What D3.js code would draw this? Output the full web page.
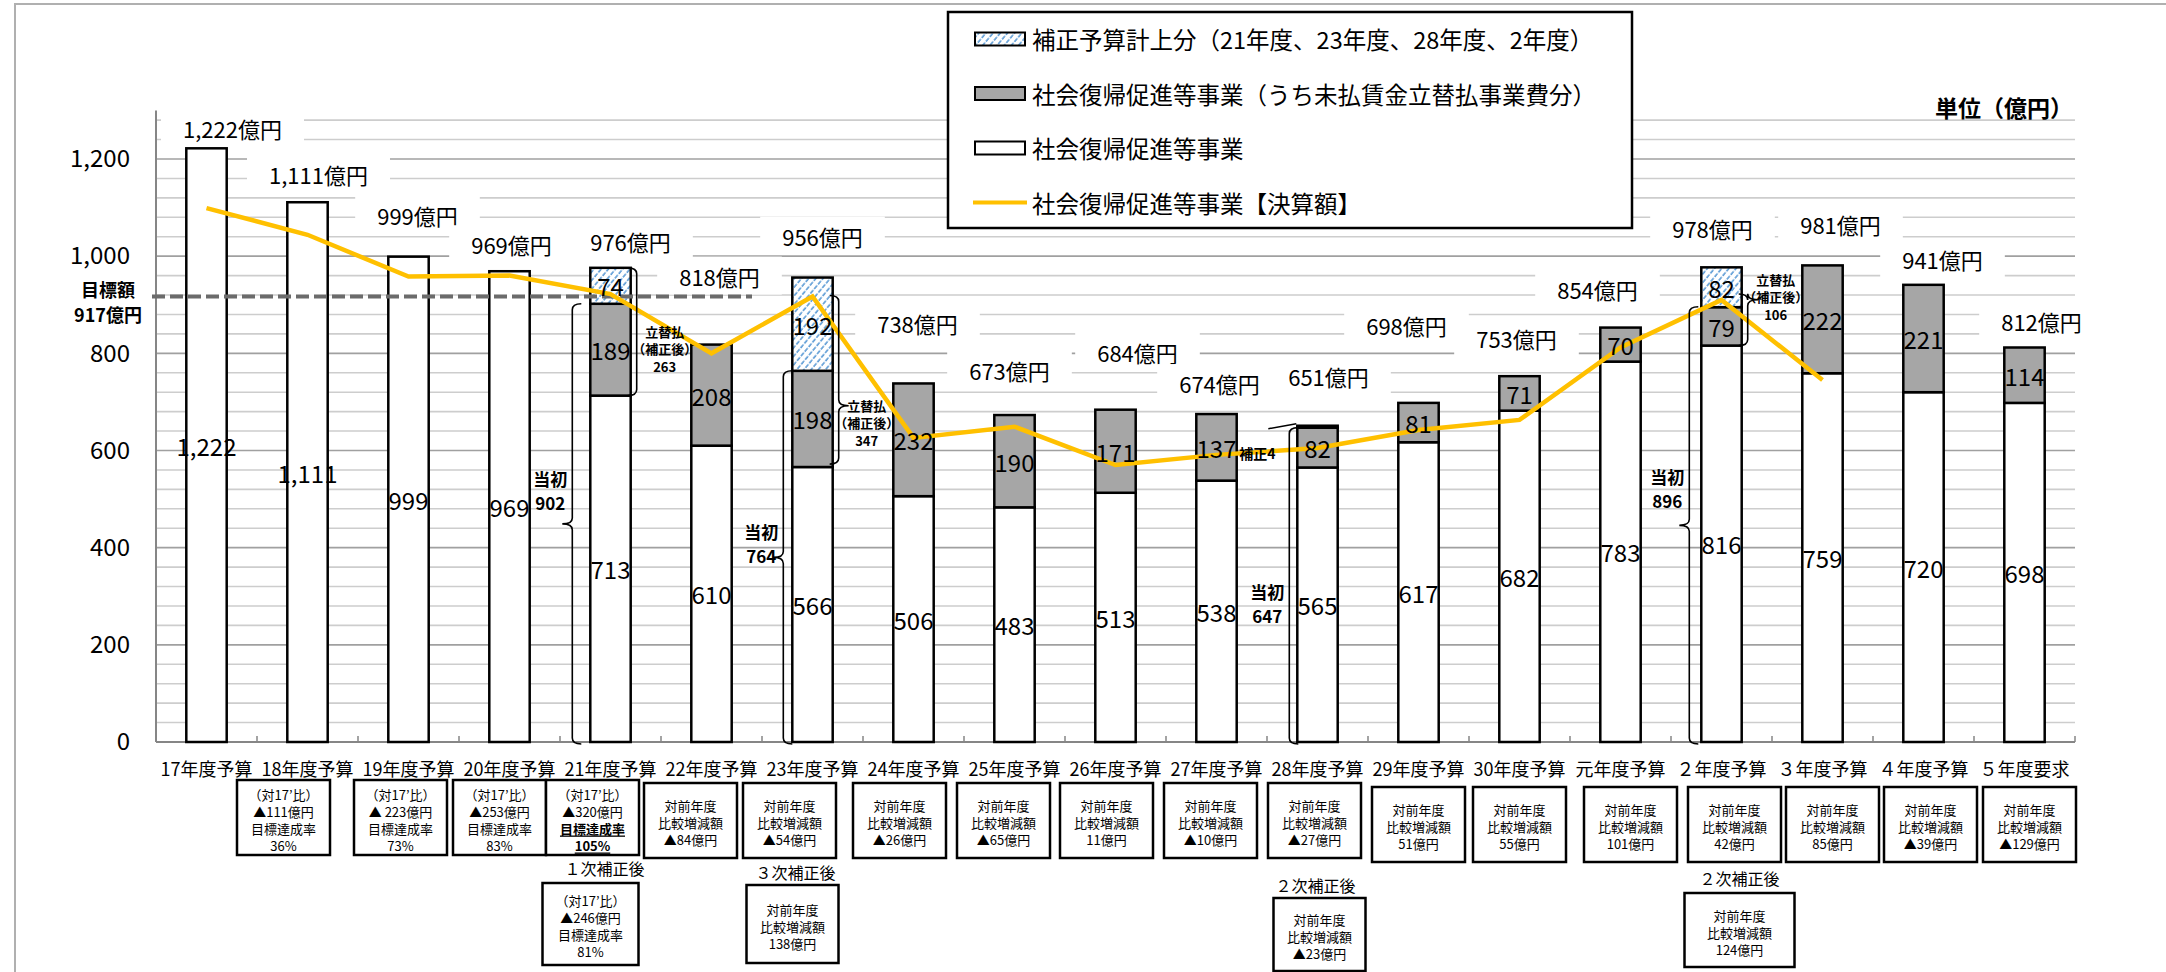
<!DOCTYPE html>
<html>
<head>
<meta charset="utf-8">
<script src="https://cdn.jsdelivr.net/npm/d3@7"></script>
<style>
	body { margin: 0; background: #fff; }
	svg { display: block; }
	text { font-family: "Noto Sans CJK JP", "Noto Sans", sans-serif; fill: #000; }
</style>
</head>
<body>
<svg id="chart" width="2166" height="972"></svg>
<script>
/**** DATA *****/
const categories = ['17年度予算','18年度予算','19年度予算','20年度予算','21年度予算','22年度予算','23年度予算',
	'24年度予算','25年度予算','26年度予算','27年度予算','28年度予算','29年度予算','30年度予算','元年度予算',
	'２年度予算','３年度予算','４年度予算','５年度要求'];
const baseBudget = [1222,1111,999,969,713,610,566,506,483,513,538,565,617,682,783,816,759,720,698];
const advanceBudget = [0,0,0,0,189,208,198,232,190,171,137,82,81,71,70,79,222,221,114];
const supplementBudget = [0,0,0,0,74,0,192,0,0,0,0,4,0,0,0,82,0,0,0];
const totalBudget = [1222,1111,999,969,976,818,956,738,673,684,674,651,698,753,854,978,981,941,812];
const settledAmount = [1099,1044,958,960,922,800,917,626,649,570,591,605,642,663,812,910,745]; // 17〜3年度
const targetAmount = 917;
const yTicks = [0,200,400,600,800,1000,1200];

const legendLabels = ['補正予算計上分（21年度、23年度、28年度、2年度）',
	'社会復帰促進等事業（うち未払賃金立替払事業費分）',
	'社会復帰促進等事業',
	'社会復帰促進等事業【決算額】'];

// 当初予算（左の括弧）
const initialBudget = [['21年度予算',902],['23年度予算',764],['28年度予算',647],['２年度予算',896]];
// 立替払（補正後）（右の括弧）: [年度, 下端, 額]
const advanceRevised = [['21年度予算',713,263],['23年度予算',572,347],['２年度予算',816,106]];

const compareNotes = [
	null,
	['（対17’比）','▲111億円','目標達成率','36%'],
	['（対17’比）','▲ 223億円','目標達成率','73%'],
	['（対17’比）','▲253億円','目標達成率','83%'],
	['（対17’比）','▲320億円','目標達成率','105%'],
	['対前年度','比較増減額','▲84億円'],
	['対前年度','比較増減額','▲54億円'],
	['対前年度','比較増減額','▲26億円'],
	['対前年度','比較増減額','▲65億円'],
	['対前年度','比較増減額','11億円'],
	['対前年度','比較増減額','▲10億円'],
	['対前年度','比較増減額','▲27億円'],
	['対前年度','比較増減額','51億円'],
	['対前年度','比較増減額','55億円'],
	['対前年度','比較増減額','101億円'],
	['対前年度','比較増減額','42億円'],
	['対前年度','比較増減額','85億円'],
	['対前年度','比較増減額','▲39億円'],
	['対前年度','比較増減額','▲129億円']
];
const highlightedNote = '21年度予算';
const revisedNotes = [
	['21年度予算','１次補正後',['（対17’比）','▲246億円','目標達成率','81%']],
	['23年度予算','３次補正後',['対前年度','比較増減額','138億円']],
	['28年度予算','２次補正後',['対前年度','比較増減額','▲23億円']],
	['２年度予算','２次補正後',['対前年度','比較増減額','124億円']]
];

/**** LAYOUT (hand placed annotations) *****/
const labelLift = [20,28,42,27,27,69,42,60,45,58,31,50,78,38,39,39,41,26,27];
const labelShift = [26,11,9,2,20,8,10,4,-5,22,3,11,-12,-3,-23,-9,18,19,17];
const boxShift = [0,-24,-8,-10,-18,-21,-23,-14,-11,-9,-6,-3,0,0,10,13,10,7,5];
const braceGap = [18,9,8,12];
const braceTip = [true,true,false,true];
const initialTextDy = [-45,-26,6,-49];
const advanceTextDy = [17,43,-23];
const advanceTip = [null,-17,3];
const revisedLayout = [
	{dx:-20, capDx:-6, capY:868, top:883, h:82, w:96},
	{dx:-20, capDx:-17, capY:872, top:885, h:78, w:92},
	{dx:2, capDx:-2, capY:885, top:898, h:73, w:92},
	{dx:18, capDx:18, capY:878, top:893, h:74, w:110}
];

/**** CHART *****/
const svg = d3.select('#chart');
const plotLeft = 156, plotRight = 2075, baseY = 742;

const x = d3.scaleBand().domain(categories).range([plotLeft, plotRight])
	.paddingInner(0.6).paddingOuter(0.3);
const y = d3.scaleLinear().domain([0, 1300]).range([baseY, baseY - 1300 * 583 / 1200]);
const step = x.step(), bw = x.bandwidth();
const cx = c => x(c) + bw / 2;

const defs = svg.append('defs');
const hatch = defs.append('pattern').attr('id', 'hatch').attr('patternUnits', 'userSpaceOnUse')
	.attr('width', 5.5).attr('height', 6).attr('patternTransform', 'rotate(40)');
hatch.append('rect').attr('width', 5.5).attr('height', 6).attr('fill', '#fff');
hatch.append('line').attr('x1', 1).attr('x2', 1).attr('y1', 0).attr('y2', 6)
	.attr('stroke', '#5b9bd5').attr('stroke-width', 1.6).attr('stroke-dasharray', '4 1.5');

// frame
svg.append('path').attr('d', 'M15,972V4H2166').attr('fill', 'none')
	.attr('stroke', '#b0b0b0').attr('stroke-width', 2);

// gridlines
const grid = d3.range(40, 1300, 40);
svg.append('g').selectAll('line').data(grid).join('line')
	.attr('x1', plotLeft).attr('x2', plotRight)
	.attr('y1', d => y(d)).attr('y2', d => y(d))
	.attr('stroke', d => d % 200 === 0 ? '#a0a0a0' : '#cdcdcd').attr('stroke-width', 1.6);

// axes
const yAxis = svg.append('g').attr('transform', `translate(${plotLeft},0)`)
	.call(d3.axisLeft(y).tickValues(yTicks).tickSize(0).tickPadding(26).tickFormat(d3.format(',')));
yAxis.select('.domain').remove();
yAxis.selectAll('text').attr('font-size', 24).attr('fill', '#000');
svg.append('line').attr('x1', plotLeft).attr('x2', plotLeft).attr('y1', baseY).attr('y2', y(1300))
	.attr('stroke', '#868686').attr('stroke-width', 2);

const xAxis = svg.append('g').attr('transform', `translate(0,${baseY})`)
	.call(d3.axisBottom(x).tickSize(0).tickPadding(21));
xAxis.select('.domain').remove();
xAxis.selectAll('text').attr('font-size', 18).attr('fill', '#000');
svg.append('line').attr('x1', plotLeft).attr('x2', plotRight).attr('y1', baseY).attr('y2', baseY)
	.attr('stroke', '#868686').attr('stroke-width', 2);
svg.append('g').selectAll('line').data(categories.concat([null])).join('line')
	.attr('x1', d => d ? x(d) - step * 0.3 : plotRight).attr('x2', d => d ? x(d) - step * 0.3 : plotRight)
	.attr('y1', baseY).attr('y2', baseY - 6)
	.attr('stroke', '#868686').attr('stroke-width', 1.5);

// legend
const legend = svg.append('g');
legend.append('rect').attr('x', 948).attr('y', 12).attr('width', 684).attr('height', 216)
	.attr('fill', '#fff').attr('stroke', '#000').attr('stroke-width', 2.5);
const legendFills = ['url(#hatch)', '#a6a6a6', '#fff', null];
legendLabels.forEach((t, i) => {
	const ly = 39 + i * 54.5;
	if (legendFills[i]) {
		legend.append('rect').attr('x', 975).attr('y', ly - 6.5).attr('width', 50).attr('height', 13)
			.attr('fill', legendFills[i]).attr('stroke', '#000').attr('stroke-width', 2);
	} else {
		legend.append('line').attr('x1', 973).attr('x2', 1027).attr('y1', ly).attr('y2', ly)
			.attr('stroke', '#ffc000').attr('stroke-width', 4);
	}
	legend.append('text').attr('x', 1032).attr('y', ly).attr('dominant-baseline', 'central')
		.attr('font-size', 23.5).text(t);
});
svg.append('text').attr('x', 2073).attr('y', 107).attr('text-anchor', 'end')
	.attr('dominant-baseline', 'central').attr('font-size', 23).attr('font-weight', 'bold').text('単位（億円）');

// total labels with white boxes
const labelLayer = svg.append('g');
categories.forEach((c, i) => {
	const top = y(baseBudget[i] + advanceBudget[i] + supplementBudget[i]);
	const g = labelLayer.append('g');
	const t = g.append('text').attr('x', cx(c) + labelShift[i]).attr('y', top - labelLift[i])
		.attr('text-anchor', 'middle').attr('dominant-baseline', 'central').attr('font-size', 22)
		.text(d3.format(',')(totalBudget[i]) + '億円');
	const b = t.node().getBBox();
	g.insert('rect', 'text').attr('x', b.x - 22).attr('y', top - labelLift[i] - 19)
		.attr('width', b.width + 44).attr('height', 38).attr('fill', '#fff');
});

// bars
const rows = categories.map((c, i) => ({cat: c, base: baseBudget[i], advance: advanceBudget[i], supplement: supplementBudget[i]}));
const keys = ['base', 'advance', 'supplement'];
const fills = {base: '#fff', advance: '#a6a6a6', supplement: 'url(#hatch)'};
const series = d3.stack().keys(keys)(rows);
const barLayer = svg.append('g');
series.forEach(s => {
	barLayer.append('g').selectAll('rect').data(s.filter(d => d[1] > d[0])).join('rect')
		.attr('x', d => x(d.data.cat)).attr('width', bw)
		.attr('y', d => y(d[1])).attr('height', d => y(d[0]) - y(d[1]))
		.attr('fill', fills[s.key]).attr('stroke', '#000').attr('stroke-width', 2.5);
});

// target line
svg.append('line').attr('x1', 152).attr('x2', 752).attr('y1', y(targetAmount)).attr('y2', y(targetAmount))
	.attr('stroke', '#6b6b6b').attr('stroke-width', 4).attr('stroke-dasharray', '13 5');
svg.append('text').attr('x', 108).attr('y', y(targetAmount) - 7).attr('text-anchor', 'middle')
	.attr('dominant-baseline', 'central').attr('font-size', 18).attr('font-weight', 'bold').text('目標額');
svg.append('text').attr('x', 108).attr('y', y(targetAmount) + 18).attr('text-anchor', 'middle')
	.attr('dominant-baseline', 'central').attr('font-size', 18).attr('font-weight', 'bold').text('917億円');

// settled line
const line = d3.line().x((d, i) => cx(categories[i])).y(d => y(d));
svg.append('path').datum(settledAmount).attr('d', line).attr('fill', 'none')
	.attr('stroke', '#ffc000').attr('stroke-width', 4.5).attr('stroke-linejoin', 'miter');

// segment labels
series.forEach(s => {
	svg.append('g').selectAll('text').data(s.filter(d => d[1] - d[0] >= 20)).join('text')
		.attr('x', d => cx(d.data.cat)).attr('y', d => y((d[0] + d[1]) / 2))
		.attr('text-anchor', 'middle').attr('dominant-baseline', 'central').attr('font-size', 24)
		.text(d => d3.format(',')(d[1] - d[0]));
});

// braces
function brace(g, xl, yTop, yBot, dir, tipY) {
	const h = 9, t = 10, r = 6;
	let d = `M${xl - dir * h},${yTop} Q${xl},${yTop} ${xl},${yTop + r} `;
	if (tipY != null) {
		d += `L${xl},${tipY - r} Q${xl},${tipY} ${xl + dir * t},${tipY} Q${xl},${tipY} ${xl},${tipY + r} `;
	}
	d += `L${xl},${yBot - r} Q${xl},${yBot} ${xl - dir * h},${yBot}`;
	g.append('path').attr('fill', 'none').attr('stroke', '#000').attr('stroke-width', 1.6).attr('d', d);
}
const noteLayer = svg.append('g');
initialBudget.forEach(([c, v], k) => {
	const xl = x(c) - braceGap[k];
	const yTop = y(v), yBot = baseY + 2, mid = (yTop + yBot) / 2;
	brace(noteLayer, xl, yTop, yBot, -1, braceTip[k] ? mid : null);
	['当初', String(v)].forEach((t, j) => {
		noteLayer.append('text').attr('x', xl - 22).attr('y', mid + initialTextDy[k] + j * 24)
			.attr('text-anchor', 'middle').attr('dominant-baseline', 'central')
			.attr('font-size', 17).attr('font-weight', 'bold').text(t);
	});
});
advanceRevised.forEach(([c, lo, amt], k) => {
	const xl = x(c) + bw + 6;
	const yTop = y(lo + amt), yBot = y(lo), mid = (yTop + yBot) / 2;
	const textMid = mid + advanceTextDy[k];
	brace(noteLayer, xl, yTop, yBot, 1, advanceTip[k] == null ? null : textMid + advanceTip[k]);
	['立替払', '（補正後）', String(amt)].forEach((t, j) => {
		noteLayer.append('text').attr('x', xl + 28).attr('y', textMid + (j - 1) * 17.5)
			.attr('text-anchor', 'middle').attr('dominant-baseline', 'central')
			.attr('font-size', 13).attr('font-weight', 'bold').text(t);
	});
});
// 28年度 補正4
const c28 = '28年度予算', i28 = categories.indexOf(c28);
const top28 = y(baseBudget[i28] + advanceBudget[i28] + supplementBudget[i28]);
noteLayer.append('line').attr('x1', x(c28) - 29).attr('y1', top28 + 3).attr('x2', x(c28) - 1).attr('y2', top28 - 2)
	.attr('stroke', '#000').attr('stroke-width', 1.5);
noteLayer.append('text').attr('x', x(c28) - 40).attr('y', top28 + 27).attr('text-anchor', 'middle')
	.attr('dominant-baseline', 'central').attr('font-size', 14).attr('font-weight', 'bold')
	.text('補正' + supplementBudget[i28]);

// comparison boxes
function noteBox(g, xc, top, w, h, lines, highlight) {
	g.append('rect').attr('x', xc - w / 2).attr('y', top).attr('width', w).attr('height', h)
		.attr('fill', '#fff').attr('stroke', '#000').attr('stroke-width', 2.5);
	const lh = 17, y0 = top + h / 2 + 2 - (lines.length - 1) * lh / 2;
	lines.forEach((t, j) => {
		const tx = g.append('text').attr('x', xc).attr('y', y0 + j * lh).attr('text-anchor', 'middle')
			.attr('dominant-baseline', 'central').attr('font-size', 13).text(t);
		if (highlight && j >= 2) tx.attr('font-weight', 'bold').style('text-decoration', 'underline');
	});
}
const boxLayer = svg.append('g');
categories.forEach((c, i) => {
	if (!compareNotes[i]) return;
	const top = i <= 4 ? 780 : i <= 11 ? 783 : 787;
	noteBox(boxLayer, cx(c) + boxShift[i], top, 93, 75, compareNotes[i], c === highlightedNote);
});
revisedNotes.forEach(([c, cap, lines], k) => {
	const L = revisedLayout[k];
	boxLayer.append('text').attr('x', cx(c) + L.capDx).attr('y', L.capY).attr('text-anchor', 'middle')
		.attr('dominant-baseline', 'central').attr('font-size', 16).text(cap);
	noteBox(boxLayer, cx(c) + L.dx, L.top, L.w, L.h, lines, false);
});
</script>
</body>
</html>
